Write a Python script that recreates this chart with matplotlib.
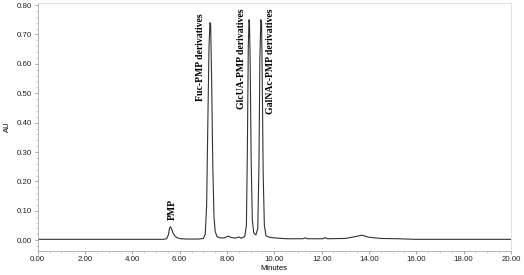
import matplotlib.pyplot as plt
from matplotlib.ticker import MultipleLocator, FormatStrFormatter

# trace (minutes, AU)
minutes = [0.0, 2.0, 4.0, 5.3, 5.45, 5.52, 5.57, 5.61, 5.66, 5.72, 5.8, 5.9, 6.05,
           6.3, 6.8, 7.0, 7.08, 7.14, 7.19, 7.24, 7.28, 7.31, 7.35, 7.40, 7.45,
           7.50, 7.58, 7.7, 7.9, 8.05, 8.15, 8.35, 8.5, 8.6, 8.75, 8.82, 8.86,
           8.90, 8.93, 8.95, 8.98, 9.02, 9.07, 9.13, 9.22, 9.30, 9.35, 9.39,
           9.43, 9.46, 9.49, 9.53, 9.58, 9.65, 9.8, 10.0, 10.5, 11.2, 11.3,
           11.4, 12.05, 12.15, 12.25, 13.0, 13.4, 13.7, 14.0, 14.5, 15.2, 16.0,
           17.0, 18.5, 20.0]
au = [0.003, 0.003, 0.003, 0.003, 0.005, 0.018, 0.040, 0.046, 0.038, 0.024,
      0.014, 0.008, 0.005, 0.004, 0.004, 0.006, 0.02, 0.12, 0.40, 0.66, 0.74,
      0.73, 0.55, 0.25, 0.08, 0.03, 0.012, 0.008, 0.008, 0.014, 0.010, 0.007,
      0.011, 0.007, 0.012, 0.05, 0.30, 0.66, 0.75, 0.74, 0.60, 0.28, 0.07,
      0.025, 0.018, 0.04, 0.25, 0.62, 0.75, 0.74, 0.55, 0.22, 0.05, 0.015,
      0.010, 0.008, 0.005, 0.005, 0.008, 0.005, 0.005, 0.009, 0.005, 0.006,
      0.012, 0.017, 0.010, 0.006, 0.005, 0.003, 0.003, 0.003, 0.003]

peak_labels = ["PMP", "Fuc-PMP derivatives", "GlcUA-PMP derivatives", "GalNAc-PMP derivatives"]
label_x = [5.67, 6.86, 8.63, 9.82]
label_top = [0.14, 0.772, 0.79, 0.79]

fig = plt.figure(figsize=(5.24, 2.75), dpi=100)
ax = fig.add_axes([0.072, 0.088, 0.903, 0.9])

ax.plot(minutes, au, color='#333333', lw=0.8)

for txt, x, y in zip(peak_labels, label_x, label_top):
    ax.text(x, y, txt, rotation=90, ha='center', va='top',
            fontsize=7, fontweight='bold', family='Liberation Serif')

ax.set_xlim(0, 20)
ax.set_ylim(-0.036, 0.806)
ax.xaxis.set_major_locator(MultipleLocator(2))
ax.xaxis.set_minor_locator(MultipleLocator(0.5))
ax.yaxis.set_major_locator(MultipleLocator(0.1))
ax.yaxis.set_minor_locator(MultipleLocator(0.02))
ax.xaxis.set_major_formatter(FormatStrFormatter('%.2f'))
ax.yaxis.set_major_formatter(FormatStrFormatter('%.2f'))

for lab in ax.get_xticklabels() + ax.get_yticklabels():
    lab.set_family('Liberation Sans')
ax.tick_params(axis='both', which='major', labelsize=5.7, length=2.5, width=0.6,
               color='#999999', labelcolor='#222222', pad=1.5)
ax.tick_params(axis='both', which='minor', length=1.5, width=0.5, color='#bbbbbb')

ax.spines['left'].set_color('#aaaaaa')
ax.spines['bottom'].set_color('#aaaaaa')
ax.spines['top'].set_color('#dddddd')
ax.spines['right'].set_color('#dddddd')
for s in ax.spines.values():
    s.set_linewidth(0.6)

ax.set_xlabel('Minutes', fontsize=5.5, family='Liberation Sans', labelpad=1.5)
ax.set_ylabel('AU', fontsize=5.5, family='Liberation Sans', labelpad=4)

fig.savefig('out.png', dpi=100)
